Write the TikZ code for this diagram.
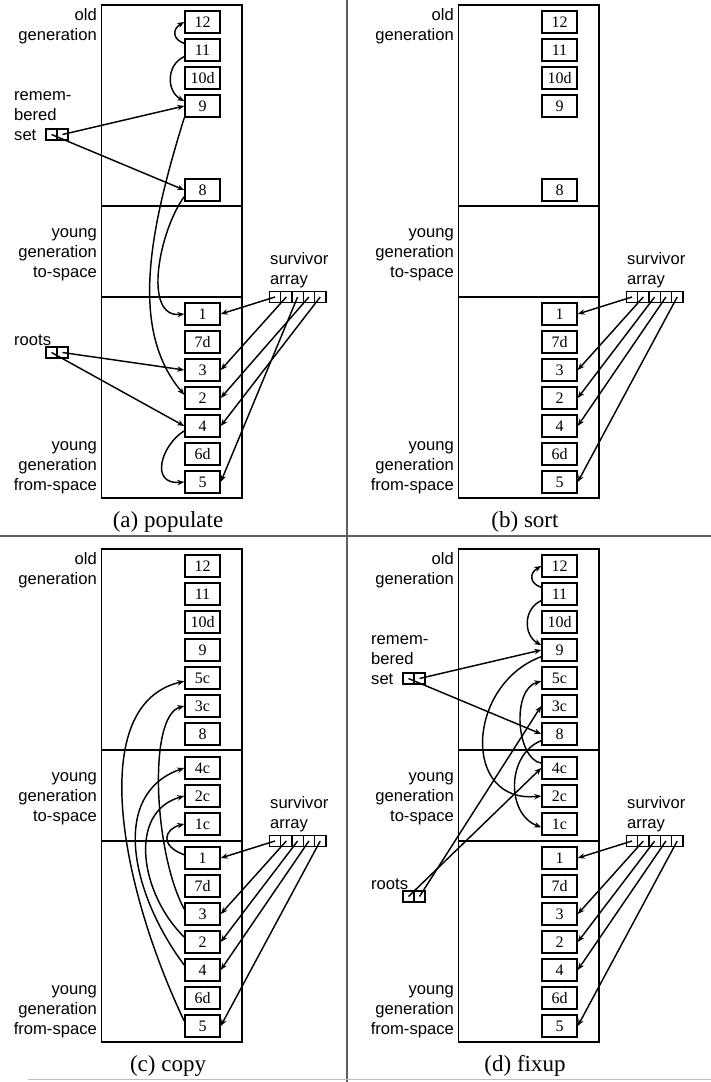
\documentclass[tikz,border=0pt]{standalone}
\usepackage{fontspec}
\setmainfont{Liberation Serif}
\newfontfamily\labfont{Liberation Sans}
\usetikzlibrary{arrows.meta}
\definecolor{divgray}{RGB}{95,95,95}
\definecolor{lightgray2}{RGB}{190,190,190}
\tikzset{
  obj/.style={draw, line width=1.5pt, minimum width=35pt, minimum height=22pt, inner sep=0pt, font=\fontsize{16}{16}\selectfont},
  cell/.style={draw, line width=1.3pt, minimum width=11.3pt, minimum height=11.5pt, inner sep=0pt},
  lab/.style={inner sep=0pt, font=\labfont\fontsize{16.6}{20}\selectfont},
  ptr/.style={line width=1.45pt, -{Stealth[length=7pt,width=5.5pt]}},
  region/.style={draw, line width=1.6pt},
  captxt/.style={inner sep=0pt, anchor=base, font=\fontsize{23}{23}\selectfont},
  divider/.style={line width=1.5pt, draw=divgray},
}
\newcommand\GCcommon[1]{%
  \draw[region] (101.5,5) rectangle (242,498);
  \draw[region] (101.5,206) -- (242,206);
  \draw[region] (101.5,297) -- (242,297);
  \node[lab,anchor=base east] (og1) at (97,20) {old};
  \node[lab,anchor=base east] (og2) at (97,40) {generation};
  \node[lab,anchor=base east] (ts1) at (97,237) {young};
  \node[lab,anchor=base east] (ts2) at (97,257) {generation};
  \node[lab,anchor=base east] (ts3) at (97,277) {to-space};
  \node[lab,anchor=base east] (fs1) at (97,450.5) {young};
  \node[lab,anchor=base east] (fs2) at (97,470.5) {generation};
  \node[lab,anchor=base east] (fs3) at (97,490.5) {from-space};
  \node[lab,anchor=base west] (sv1) at (270,264.5) {survivor};
  \node[lab,anchor=base west] (sv2) at (270,284) {array};
  \node[obj] (o12) at (202.5,22) {12};
  \node[obj] (o11) at (202.5,50) {11};
  \node[obj] (o10d) at (202.5,78) {10d};
  \node[obj] (o9) at (202.5,106) {9};
  \node[obj] (o8) at (202.5,190) {8};
  \node[obj] (o1) at (202.5,314) {1};
  \node[obj] (o7d) at (202.5,342) {7d};
  \node[obj] (o3) at (202.5,370) {3};
  \node[obj] (o2) at (202.5,398) {2};
  \node[obj] (o4) at (202.5,426) {4};
  \node[obj] (o6d) at (202.5,454) {6d};
  \node[obj] (o5) at (202.5,482) {5};
  \foreach \i/\x in {1/275,2/286.3,3/297.6,4/308.9,5/320.2}
    \node[cell] (sa\i) at (\x,297) {};
  \node[captxt] (capt) at (168,527) {#1};
}
\newcommand\GCsurv[5]{%
  \draw[ptr] (sa1.center) -- (o#1.east);
  \draw[ptr] (sa2.center) -- (o#2.east);
  \draw[ptr] (sa3.center) -- (o#3.east);
  \draw[ptr] (sa4.center) -- (o#4.east);
  \draw[ptr] (sa5.center) -- (o#5.east);
}
\newcommand\GCremset{%
  \node[lab,anchor=base west] (rm1) at (14,100) {remem-};
  \node[lab,anchor=base west] (rm2) at (14,120) {bered};
  \node[lab,anchor=base west] (rm3) at (14,140) {set};
  \node[cell,minimum width=11pt,minimum height=11pt] (rs1) at (51.5,134.5) {};
  \node[cell,minimum width=11pt,minimum height=11pt] (rs2) at (62.5,134.5) {};
  \draw[ptr] (rs2.center) -- (o9.west);
  \draw[ptr] (rs1.center) -- (o8.west);
  \draw[ptr] (o11.160) .. controls +(-12,-4) and +(-12,7) .. (o12.west);
  \draw[ptr] (o11.200) .. controls +(-18,8) and +(-18,-10) .. (o9.165);
}
\newcommand\GCroots{%
  \node[lab,anchor=base west] (rl) at (14,345) {roots};
  \node[cell,minimum width=11pt,minimum height=11pt] (rt1) at (51.5,352.5) {};
  \node[cell,minimum width=11pt,minimum height=11pt] (rt2) at (62.5,352.5) {};
}
\newcommand\GCcopies{%
  \node[obj] (o5c) at (202.5,134) {5c};
  \node[obj] (o3c) at (202.5,162) {3c};
  \node[obj] (o4c) at (202.5,224) {4c};
  \node[obj] (o2c) at (202.5,252) {2c};
  \node[obj] (o1c) at (202.5,280) {1c};
}
\begin{document}
\begin{tikzpicture}[x=1pt,y=-1pt]
\useasboundingbox (0,0) rectangle (711,1082);
\draw[divider] (347,0) -- (347,1082);
\draw[divider] (0,536) -- (711,536);
\draw[line width=1.5pt, draw=lightgray2] (28,1079.5) -- (711,1079.5);

% (a) populate
\begin{scope}[name prefix=a-]
  \GCcommon{(a) populate}
  \GCremset
  \GCroots
  \GCsurv{1}{3}{5}{2}{4}
  \draw[ptr] (o9.south west) .. controls +(-35,113) and +(-55,-65) .. (o2.170);
  \draw[ptr] (o8.200) .. controls +(-25,34) and +(-42,4) .. (o1.west);
  \draw[ptr] (rt2.center) -- (o3.west);
  \draw[ptr] (rt1.center) -- (o4.west);
  \draw[ptr] (o4.195) .. controls +(-23,14) and +(-35,3) .. (o5.west);
\end{scope}

% (b) sort
\begin{scope}[shift={(357,0)}, name prefix=b-]
  \GCcommon{(b) sort}
  \GCsurv{1}{3}{2}{4}{5}
\end{scope}

% (c) copy
\begin{scope}[shift={(0,544)}, name prefix=c-]
  \GCcommon{(c) copy}
  \GCcopies
  \GCsurv{1}{3}{2}{4}{5}
  \draw[ptr] (o5.165) .. controls +(-65,-137) and +(-98,23) .. (o5c.190);
  \draw[ptr] (o4.165) .. controls +(-53,-71) and +(-75,26) .. (o4c.west);
  \draw[ptr] (o2.165) .. controls +(-44,-43) and +(-57,16) .. (o2c.west);
  \draw[ptr] (o3.165) .. controls +(-30,-55) and +(-37,10) .. (o3c.west);
  \draw[ptr] (o1.170) .. controls +(-25,-9) and +(-20,5) .. (o1c.west);
\end{scope}

% (d) fixup
\begin{scope}[shift={(357,544)}, name prefix=d-]
  \GCcommon{(d) fixup}
  \GCcopies
  \GCremset
  \GCroots
  \GCsurv{1}{3}{2}{4}{5}
  \draw[ptr] (o9.200) .. controls +(-75,28) and +(-80,8) .. (o2c.west);
  \draw[ptr] (o8.200) .. controls +(-35,14) and +(-35,-13) .. (o1c.190);
  \draw[ptr] (o4c.165) .. controls +(-25,-4) and +(-30,8) .. (o5c.190);
  \draw[ptr] (rt1.center) -- (o4c.west);
  \draw[ptr] (rt2.center) -- (o3c.west);
\end{scope}
\end{tikzpicture}
\end{document}
